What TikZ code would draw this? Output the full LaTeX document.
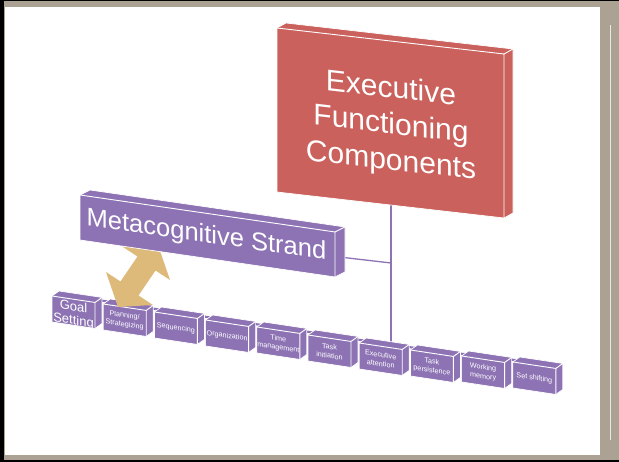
\documentclass[tikz,border=0pt]{standalone}
\usepackage{fontspec}
\setmainfont{Liberation Sans}
\usetikzlibrary{calc}

\definecolor{ecred}{RGB}{202,97,92}
\definecolor{ecpurple}{RGB}{141,115,180}
\definecolor{ectan}{RGB}{221,186,122}
\definecolor{paper}{RGB}{172,162,148}

% A slanted slab: front face with a thin top and side face.
% #1 name, #2 left x, #3 top y, #4 width, #5 height, #6 slope, #7 depth offset, #8 colour
\newcommand\slab[8]{%
  \coordinate (#1-tl) at (#2,#3);
  \coordinate (#1-tr) at ({#2+#4},{#3+#6*#4});
  \coordinate (#1-bl) at (#2,{#3+#5});
  \coordinate (#1-br) at ({#2+#4},{#3+#5+#6*#4});
  \coordinate (#1-c) at ({#2+#4/2},{#3+#5/2+#6*#4/2});
  \coordinate (#1-tlb) at ($(#1-tl)+(#7)$);
  \coordinate (#1-trb) at ($(#1-tr)+(#7)$);
  \coordinate (#1-brb) at ($(#1-br)+(#7)$);
  \coordinate (#1-top) at ($(#1-tl)!0.5!(#1-trb)$);
  \filldraw[fill=#8, draw=white, line width=0.7pt, line join=round]
    (#1-tl) -- (#1-tlb) -- (#1-trb) -- (#1-brb) -- (#1-br) -- (#1-bl) -- cycle;
  \draw[white, line width=0.9pt, line join=round]
    (#1-tl) -- (#1-tr) -- (#1-br) (#1-tr) -- (#1-trb);
}

\newcommand\rowfont{\fontsize{7.2}{9}\selectfont}

% Corners of one box of the lower row: #1 name, #2 index, #3 top y
\newcommand\rowcorners[3]{%
  \pgfmathsetmacro\rbx{52+51.2*#2}
  \coordinate (#1-top) at ({\rbx+25},{#3+0.15*21.5-2.5});
}
% One box of the lower row: #1 name, #2 index, #3 top y, #4 text
\newcommand\rowbox[4]{%
  \pgfmathsetmacro\rbx{52+51.2*#2}
  \slab{#1}{\rbx}{#3}{43}{26}{0.15}{7,-5}{ecpurple}
  \node[facetext, yslant=-0.15, font=\rowfont] (#1) at (#1-c) {#4};
}

\begin{document}
\begin{tikzpicture}[x=1pt,y=-1pt,
  facetext/.style={text=white, align=center, inner sep=0pt},
  link/.style={draw=ecpurple, line width=1.3pt}]
\useasboundingbox (0,0) rectangle (619,462);

% surround and page
\fill[paper] (0,0) rectangle (619,462);
\fill[black] (0,0) rectangle (3.5,462);
\fill[black] (0,0) rectangle (619,1.5);
\fill[black] (0,460) rectangle (619,462);
\fill[white] (5,7.5) rectangle (600,455);
\draw[white!75!paper, line width=0.6pt] (610,25) -- (610,440);

% connectors
\coordinate (hub-top) at (391,205);
\coordinate (hub-ms) at (391,263);
\coordinate (hub-row) at (391,342);
\coordinate (ms-end) at (335,256.5);
\draw[link] (hub-top) -- (hub-row);
\draw[link] (ms-end) -- (hub-ms);

% bar running along the tops of the lower row
\rowcorners{goal}{0}{296}
\rowcorners{plan}{1}{304}
\rowcorners{seq}{2}{312}
\rowcorners{org}{3}{320}
\rowcorners{time}{4}{327}
\rowcorners{init}{5}{335}
\rowcorners{att}{6}{343}
\rowcorners{pers}{7}{350}
\rowcorners{work}{8}{356}
\rowcorners{shift}{9}{362}
\draw[link, line width=2.2pt, line join=round] (goal-top) -- (plan-top) -- (seq-top) -- (org-top)
  -- (time-top) -- (init-top) -- (att-top) -- (pers-top) -- (work-top) -- (shift-top);

% lower row
\slab{goal}{52}{296}{43}{26}{0.15}{7,-5}{ecpurple}
\node[facetext, yslant=-0.15, font=\fontsize{13}{14}\selectfont] (goal) at ($(goal-c)+(0,2)$) {Goal\\Setting};
\rowbox{plan}{1}{304}{Planning/\\Strategizing}
\rowbox{seq}{2}{312}{Sequencing}
\rowbox{org}{3}{320}{Organization}
\rowbox{time}{4}{327}{Time\\management}
\rowbox{init}{5}{335}{Task\\initiation}
\rowbox{att}{6}{343}{Executive\\attention}
\rowbox{pers}{7}{350}{Task\\persistence}
\rowbox{work}{8}{356}{Working\\memory}
\rowbox{shift}{9}{362}{Set shifting}

% two-way arrow between strand and row
\fill[ectan] (158,245) -- (170,280) -- (155.5,270.5) -- (138.5,295.5)
  -- (153,305) -- (118,307) -- (106,272) -- (120.5,281.5)
  -- (137.5,256.5) -- (123,247) -- cycle;

% strand box
\slab{ms}{80}{195}{255}{45}{0.145}{10,-5}{ecpurple}
\node[facetext, yslant=-0.145, font=\fontsize{25.5}{30}\selectfont] (meta) at ($(ms-c)+(-1,0)$) {Metacognitive Strand};

% top box
\slab{ef}{277}{28}{227}{164}{0.1145}{9,-5}{ecred}
\node[facetext, yslant=-0.1145, font=\fontsize{30}{36}\selectfont] (exec) at (391,126) {Executive\\Functioning\\Components};
\end{tikzpicture}
\end{document}
